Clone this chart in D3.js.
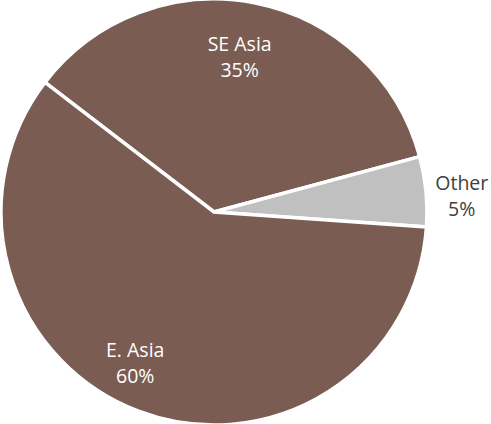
<!DOCTYPE html>
<html><head><meta charset="utf-8">
<script src="https://cdn.jsdelivr.net/npm/d3@7"></script>
<style>body{margin:0;background:#fff}svg{display:block}</style>
</head><body>
<svg id="c" width="491" height="424"></svg>
<script>
const categories = ["SE Asia", "Other", "E. Asia"];
const values = [35.4, 5.3, 59.3];
const labels = ["35%", "5%", "60%"];

const svg = d3.select("#c");
const cx = 214, cy = 212, R = 213;
const color = d3.scaleOrdinal().domain(categories).range(["#7a5c53", "#c0c0c0", "#7a5c53"]);
const startA = -52.5 * Math.PI / 180;
const pie = d3.pie().sort(null).value(d => d.v).startAngle(startA).endAngle(startA + 2 * Math.PI);
const data = categories.map((c, i) => ({c, v: values[i], l: labels[i]}));
const arcs = pie(data);
const arc = d3.arc().innerRadius(0).outerRadius(R);
const g = svg.append("g").attr("transform", `translate(${cx},${cy})`);
g.selectAll("path").data(arcs).join("path")
  .attr("d", arc).attr("fill", d => color(d.data.c))
  .attr("stroke", "#fff").attr("stroke-width", 3.5).attr("stroke-linejoin", "miter");

// label placement style: radius and angular offset (degrees)
const labelStyle = {"SE Asia": {r: 152, da: -1.5}, "Other": {r: 248, da: 3}, "E. Asia": {r: 175, da: 6}};
const lab = g.selectAll("g.lab").data(arcs).join("g").attr("class", "lab")
  .attr("transform", d => {
    const s = labelStyle[d.data.c];
    const a = (d.startAngle + d.endAngle) / 2 + s.da * Math.PI / 180;
    return `translate(${Math.sin(a) * s.r},${-Math.cos(a) * s.r})`;
  });
const fill = d => d.data.c === "Other" ? "#404040" : "#fff";
lab.append("text").attr("y", -11).attr("text-anchor", "middle")
  .attr("font-family", "'Open Sans', sans-serif").attr("font-size", 19.5)
  .attr("fill", fill).text(d => d.data.c);
lab.append("text").attr("y", 15).attr("text-anchor", "middle")
  .attr("font-family", "'Open Sans', sans-serif").attr("font-size", 19.5)
  .attr("fill", fill).text(d => d.data.l);
</script>
</body></html>
